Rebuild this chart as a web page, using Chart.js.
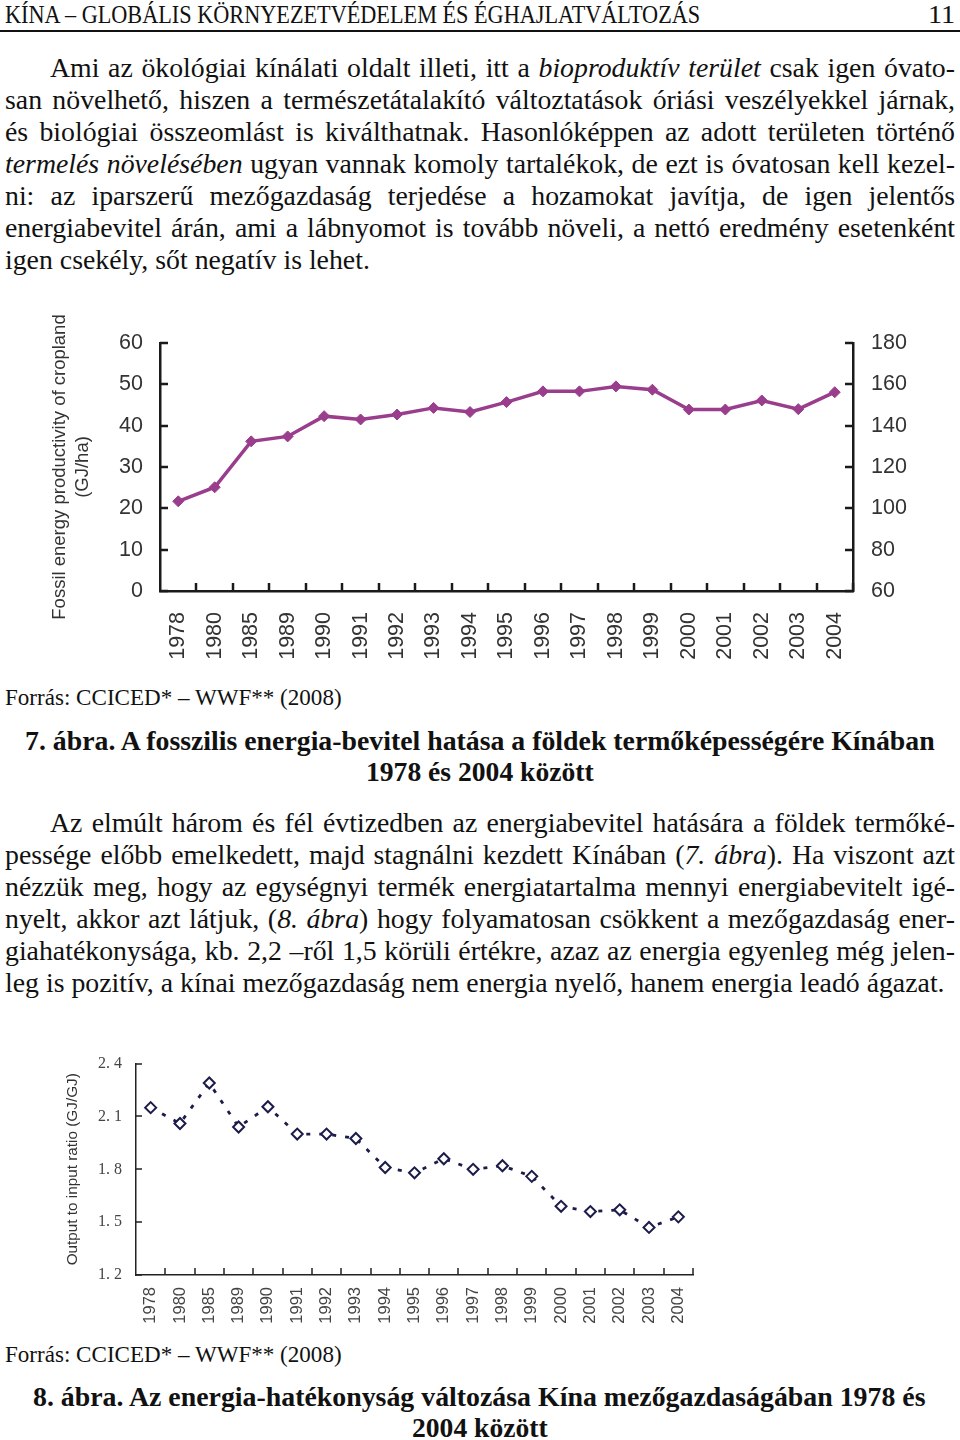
<!DOCTYPE html>
<html lang="hu">
<head>
<meta charset="utf-8">
<title>Kína – 7. és 8. ábra</title>
<script src="https://cdn.jsdelivr.net/npm/chart.js@4.4.1/dist/chart.umd.min.js"></script>
<style>
  body { margin: 0; background: #fff; }
  #page { position: relative; width: 960px; height: 1440px; overflow: hidden;
          font-family: 'Liberation Serif', 'Times New Roman', serif; color: #111; }
  .fit { position: absolute; white-space: nowrap; line-height: 1; transform-origin: 0 50%; }
  .rule { position: absolute; left: 0; top: 30px; width: 960px; height: 2px; background: #111; }
  .ln { position: absolute; left: 5px; width: 950px; font-size: 27.8px; line-height: 32px; height: 32px;
        text-align: justify; text-align-last: justify; }
  .ln.first { left: 50px; width: 905px; }
  .ln.last { text-align-last: left; }
  canvas { position: absolute; }
</style>
</head>
<body>
<div id="page">
  <div class="fit" data-w="695" style="left:5px; top:2px; font-size:25px;">KÍNA – GLOBÁLIS KÖRNYEZETVÉDELEM ÉS ÉGHAJLATVÁLTOZÁS</div>
  <div class="fit" data-w="27" style="left:928px; top:2px; font-size:25px;">11</div>
  <div class="rule"></div>

  <div class="ln first" style="top:52px">Ami az ökológiai kínálati oldalt illeti, itt a <i>bioproduktív terület</i> csak igen óvato-</div>
  <div class="ln" style="top:84px">san növelhető, hiszen a természetátalakító változtatások óriási veszélyekkel járnak,</div>
  <div class="ln" style="top:116px">és biológiai összeomlást is kiválthatnak. Hasonlóképpen az adott területen történő</div>
  <div class="ln" style="top:148px"><i>termelés növelésében</i> ugyan vannak komoly tartalékok, de ezt is óvatosan kell kezel-</div>
  <div class="ln" style="top:180px">ni: az iparszerű mezőgazdaság terjedése a hozamokat javítja, de igen jelentős</div>
  <div class="ln" style="top:212px">energiabevitel árán, ami a lábnyomot is tovább növeli, a nettó eredmény esetenként</div>
  <div class="ln last" style="top:244px">igen csekély, sőt negatív is lehet.</div>

  <canvas id="graficoTermo" width="900" height="370" style="left:40px; top:300px;"></canvas>

  <div class="fit" data-w="337" style="left:5px; top:686px; font-size:23px;">Forrás: CCICED* – WWF** (2008)</div>
  <div class="fit" data-w="910" style="left:25px; top:728px; font-size:27px; font-weight:bold;">7. ábra. A fosszilis energia-bevitel hatása a földek termőképességére Kínában</div>
  <div class="fit" data-w="228" style="left:366px; top:759px; font-size:27px; font-weight:bold;">1978 és 2004 között</div>

  <div class="ln first" style="top:807px">Az elmúlt három és fél évtizedben az energiabevitel hatására a földek termőké-</div>
  <div class="ln" style="top:839px">pessége előbb emelkedett, majd stagnálni kezdett Kínában (<i>7. ábra</i>). Ha viszont azt</div>
  <div class="ln" style="top:871px">nézzük meg, hogy az egységnyi termék energiatartalma mennyi energiabevitelt igé-</div>
  <div class="ln" style="top:903px">nyelt, akkor azt látjuk, (<i>8. ábra</i>) hogy folyamatosan csökkent a mezőgazdaság ener-</div>
  <div class="ln" style="top:935px">giahatékonysága, kb. 2,2 –ről 1,5 körüli értékre, azaz az energia egyenleg még jelen-</div>
  <div class="ln last" style="top:967px">leg is pozitív, a kínai mezőgazdaság nem energia nyelő, hanem energia leadó ágazat.</div>

  <canvas id="graficoHatekony" width="680" height="300" style="left:50px; top:1040px;"></canvas>

  <div class="fit" data-w="337" style="left:5px; top:1343px; font-size:23px;">Forrás: CCICED* – WWF** (2008)</div>
  <div class="fit" data-w="892" style="left:33px; top:1384px; font-size:27px; font-weight:bold;">8. ábra. Az energia-hatékonyság változása Kína mezőgazdaságában 1978 és</div>
  <div class="fit" data-w="136" style="left:412px; top:1415px; font-size:27px; font-weight:bold;">2004 között</div>
</div>

<script>
// ======== DADOS =========
const anos = ['1978', '1980', '1985', '1989', '1990', '1991', '1992', '1993', '1994', '1995',
              '1996', '1997', '1998', '1999', '2000', '2001', '2002', '2003', '2004'];

// 7. ábra - Fossil energy productivity of cropland (GJ/ha)
const produtividade = [21.7, 25.1, 36.2, 37.4, 42.3, 41.5, 42.7, 44.3, 43.3, 45.7,
                       48.3, 48.3, 49.5, 48.7, 43.9, 43.9, 46.1, 44.0, 48.1];
const eixoEsq = [0, 60, 10];     // min, max, passo
const eixoDir = [60, 180, 20];

// 8. ábra - Output to input ratio (GJ/GJ)
const razao = [2.15, 2.06, 2.29, 2.04, 2.155, 2.0, 2.0, 1.975, 1.81, 1.78,
               1.86, 1.80, 1.82, 1.76, 1.59, 1.56, 1.57, 1.47, 1.53];
const eixoRazao = [1.2, 2.4, 0.3];

// ======== AJUSTE DE LARGURA DOS TEXTOS =========
document.querySelectorAll('.fit').forEach(el => {
  const w = +el.dataset.w;
  el.style.transform = 'scaleX(' + (w / el.scrollWidth) + ')';
});

Chart.defaults.font.family = "'Liberation Sans', Arial, sans-serif";
Chart.defaults.animation = false;

// marcas de escala para dentro da área do gráfico
const marcasInternas = {
  id: 'marcasInternas',
  afterDraw(chart, args, opts) {
    const ctx = chart.ctx;
    const area = chart.chartArea;
    ctx.save();
    ctx.strokeStyle = opts.color;
    ctx.lineWidth = opts.width;
    ctx.beginPath();
    Object.values(chart.scales).forEach(s => {
      if (s.axis === 'x') {
        for (let i = 1; i <= s.ticks.length; i++) {
          const px = Math.round(s.getPixelForValue(i - 0.5));
          ctx.moveTo(px, area.bottom);
          ctx.lineTo(px, area.bottom - opts.lenX);
        }
      } else {
        s.ticks.forEach(t => {
          const py = Math.round(s.getPixelForValue(t.value));
          if (s.position === 'left') {
            ctx.moveTo(area.left, py);
            ctx.lineTo(area.left + opts.lenY, py);
          } else {
            ctx.moveTo(area.right, py);
            ctx.lineTo(area.right - opts.lenY, py);
          }
        });
      }
    });
    ctx.stroke();
    ctx.restore();
  }
};

// ======== GRÁFICO 7 =========
const ctxTermo = document.getElementById('graficoTermo');
new Chart(ctxTermo, {
  type: 'line',
  data: {
    labels: anos,
    datasets: [{
      data: produtividade,
      yAxisID: 'y',
      borderColor: '#993d8c',
      backgroundColor: '#993d8c',
      borderWidth: 3.5,
      pointStyle: 'rectRot',
      pointRadius: 5.5,
      pointBorderWidth: 1,
      tension: 0
    }]
  },
  options: {
    responsive: false,
    devicePixelRatio: 1,
    layout: { padding: { top: 43, right: 0, left: 0, bottom: 0 } },
    plugins: {
      legend: { display: false },
      tooltip: { enabled: false },
      marcasInternas: { color: '#1a1a1a', width: 2.5, lenX: 8, lenY: 8 }
    },
    scales: {
      x: {
        offset: true,
        grid: { display: false, drawTicks: false },
        border: { display: true, color: '#1a1a1a', width: 2.5 },
        ticks: { autoSkip: false, maxRotation: 90, minRotation: 90, padding: 21,
                 color: '#333', font: { size: 21.5 } },
        afterFit: s => { s.height = 79; }
      },
      y: {
        position: 'left',
        min: eixoEsq[0], max: eixoEsq[1],
        grid: { display: false, drawTicks: false },
        border: { display: true, color: '#1a1a1a', width: 2.5 },
        ticks: { stepSize: eixoEsq[2], padding: 17, color: '#333', font: { size: 21.5 } },
        title: {
          display: true,
          text: ['Fossil energy productivity of cropland', '(GJ/ha)'],
          color: '#333',
          font: { size: 18.5, lineHeight: '23px' },
          padding: { top: 8, bottom: 0 }
        },
        afterFit: s => { s.width = 120; }
      },
      y2: {
        position: 'right',
        min: eixoDir[0], max: eixoDir[1],
        grid: { display: false, drawTicks: false },
        border: { display: true, color: '#1a1a1a', width: 2.5 },
        ticks: { stepSize: eixoDir[2], padding: 18, color: '#333', font: { size: 21.5 } },
        afterFit: s => { s.width = 87; }
      }
    }
  },
  plugins: [marcasInternas]
});

// ======== GRÁFICO 8 =========
const ctxHatekony = document.getElementById('graficoHatekony');
new Chart(ctxHatekony, {
  type: 'line',
  data: {
    labels: anos,
    datasets: [{
      data: razao,
      borderColor: '#1c1c4a',
      backgroundColor: '#ffffff',
      borderWidth: 2.8,
      borderDash: [4, 9],
      pointStyle: 'rectRot',
      pointRadius: 5.5,
      pointBorderWidth: 2,
      tension: 0
    }]
  },
  options: {
    responsive: false,
    devicePixelRatio: 1,
    layout: { padding: { top: 12, right: 37, left: 0, bottom: 0 } },
    plugins: {
      legend: { display: false },
      tooltip: { enabled: false },
      marcasInternas: { color: '#222', width: 1.5, lenX: 7, lenY: 6 }
    },
    scales: {
      x: {
        offset: true,
        grid: { display: false, drawTicks: false },
        border: { display: true, color: '#222', width: 1.5 },
        ticks: { autoSkip: false, maxRotation: 90, minRotation: 90, padding: 12,
                 color: '#444', font: { size: 16.5 } },
        afterFit: s => { s.height = 65; }
      },
      y: {
        min: eixoRazao[0], max: eixoRazao[1],
        grid: { display: false, drawTicks: false },
        border: { display: true, color: '#222', width: 1.5 },
        ticks: {
          stepSize: eixoRazao[2], padding: 14, color: '#444',
          font: { family: "'Liberation Serif', 'Times New Roman', serif", size: 16 },
          callback: v => v.toFixed(1).replace('.', '. ')
        },
        title: {
          display: true,
          text: 'Output to input ratio (GJ/GJ)',
          color: '#333',
          font: { size: 15.3 },
          padding: { top: 14, bottom: 0 }
        },
        afterFit: s => { s.width = 86; }
      }
    }
  },
  plugins: [marcasInternas]
});
</script>
</body>
</html>
